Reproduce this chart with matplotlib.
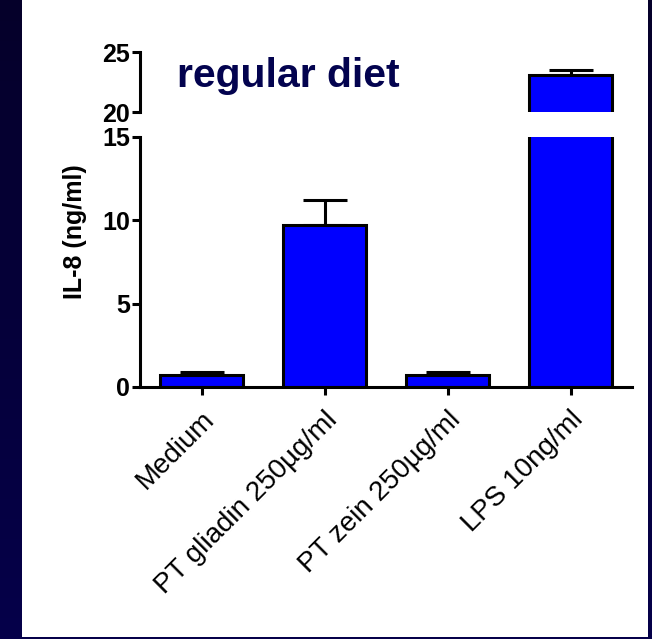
import numpy as np
import matplotlib
matplotlib.use('Agg')
import matplotlib.pyplot as plt
from matplotlib.patches import Rectangle

plt.rcParams['font.family'] = ['Liberation Sans', 'DejaVu Sans']

groups = ['Medium', 'PT gliadin 250\u00b5g/ml', 'PT zein 250\u00b5g/ml', 'LPS 10ng/ml']
il8 = [0.7, 9.7, 0.7, 23.1]
sem = [0.2, 1.5, 0.2, 0.4]

W, H = 652, 639
fig = plt.figure(figsize=(W / 100, H / 100), dpi=100)

# slide background: dark navy gradient with a white panel
bg = fig.add_axes([0, 0, 1, 1], zorder=-10)
grad = np.linspace(0, 1, 256).reshape(-1, 1)
top = np.array([5, 0, 42]) / 255
bot = np.array([6, 0, 74]) / 255
img = top + grad[..., None] * (bot - top)
bg.imshow(img, aspect='auto', extent=[0, 1, 0, 1], origin='upper')
bg.add_patch(Rectangle((22 / W, 2 / H), (648 - 22) / W, (H - 2) / H,
                       facecolor='white', edgecolor='none'))
bg.set_xlim(0, 1)
bg.set_ylim(0, 1)
bg.axis('off')

x0, x1 = 140, 632
ax = fig.add_axes([x0 / W, (H - 387) / H, (x1 - x0) / W, 250 / H])
ax_top = fig.add_axes([x0 / W, (H - 112) / H, (x1 - x0) / W, 60 / H])

x = np.arange(len(groups))
lw = 2.2
for a in (ax, ax_top):
    a.bar(x, il8, width=0.67, color='#0000ff', edgecolor='black', linewidth=lw,
          zorder=2)
    a.errorbar(x, il8, yerr=[np.zeros(len(sem)), sem], fmt='none', ecolor='black',
               elinewidth=lw, capsize=16, capthick=lw, zorder=1)
    a.set_xlim(-0.5, 3.5)
    a.patch.set_alpha(0)
    for s in ('top', 'right'):
        a.spines[s].set_visible(False)
    a.spines['left'].set_linewidth(lw)
    a.spines['bottom'].set_linewidth(lw)
    a.tick_params(axis='both', width=lw, length=6, direction='out')

ax.set_ylim(0, 15)
ax.set_yticks([0, 5, 10, 15])
ax.set_yticklabels(['0', '5', '10', '15'], fontsize=18, fontweight='bold')
ax.set_xticks(x)
ax.set_xticklabels(groups, rotation=45, ha='right', va='top',
                   rotation_mode='anchor', fontsize=20)
ax.tick_params(axis='x', pad=8)
ax.tick_params(axis='y', pad=1)

ax_top.set_ylim(20, 25)
ax_top.set_yticks([20, 25])
ax_top.set_yticklabels(['20', '25'], fontsize=18, fontweight='bold')
ax_top.spines['bottom'].set_visible(False)
ax_top.set_xticks([])
ax_top.tick_params(axis='y', pad=1)

fig.text(75 / W, 1 - 232 / H, 'IL-8 (ng/ml)', rotation=90, fontsize=18,
         fontweight='bold', ha='center', va='center')
fig.text(177 / W, 1 - 87 / H, 'regular diet', fontsize=29.5, fontweight='bold',
         color='#03034f', ha='left', va='baseline')

fig.savefig('out.png', dpi=100)
